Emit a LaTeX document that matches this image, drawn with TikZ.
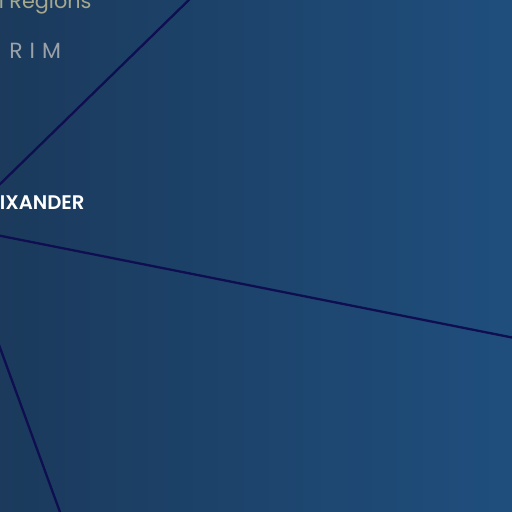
\documentclass[tikz,border=0pt]{standalone}
\usepackage{fontspec}
\setmainfont{Poppins}
\newfontfamily\namefont{Poppins SemiBold}
\newfontfamily\spacedfont[LetterSpace=32]{Poppins}

\definecolor{bgleft}{HTML}{1B3A5C}
\definecolor{bgright}{HTML}{1F4E7D}
\definecolor{linkcol}{HTML}{0E0E50}
\definecolor{regioncol}{HTML}{A6A98E}
\definecolor{rimcol}{HTML}{9BA1A8}

\begin{document}
\begin{tikzpicture}[x=0.02cm, y=-0.02cm,
    link/.style={linkcol, line width=1.3pt},
    namelabel/.style={inner sep=0pt, anchor=base west, white, font=\namefont\fontsize{11.2}{13}\selectfont},
    toplabel/.style={inner sep=0pt, anchor=base west}]

    % Rahmen und Hintergrund
    \useasboundingbox (0,0) rectangle (512,512);
    \clip (0,0) rectangle (512,512);
    \shade[left color=bgleft, right color=bgright] (0,0) rectangle (512,512);

    % Knoten links ausserhalb des Bildes
    \coordinate (hub) at (-44,227);

    % Enden der Verbindungen
    \coordinate (north) at (236,-46);
    \coordinate (east) at (570,349);
    \coordinate (south) at (72,545);

    % Verbindungen
    \draw[link] (hub) -- (north);
    \draw[link] (hub) -- (east);
    \draw[link] (hub) -- (south);

    % Beschriftungen
    \node[toplabel, regioncol, font=\fontsize{11.8}{13}\selectfont] (regions) at (-1.5,8) {l Regions};
    \node[toplabel, rimcol, font=\spacedfont\fontsize{12.5}{15}\selectfont] (rim) at (9,58) {RIM};
    \node[namelabel] (alexander) at (-0.5,209) {IXANDER};

\end{tikzpicture}
\end{document}
